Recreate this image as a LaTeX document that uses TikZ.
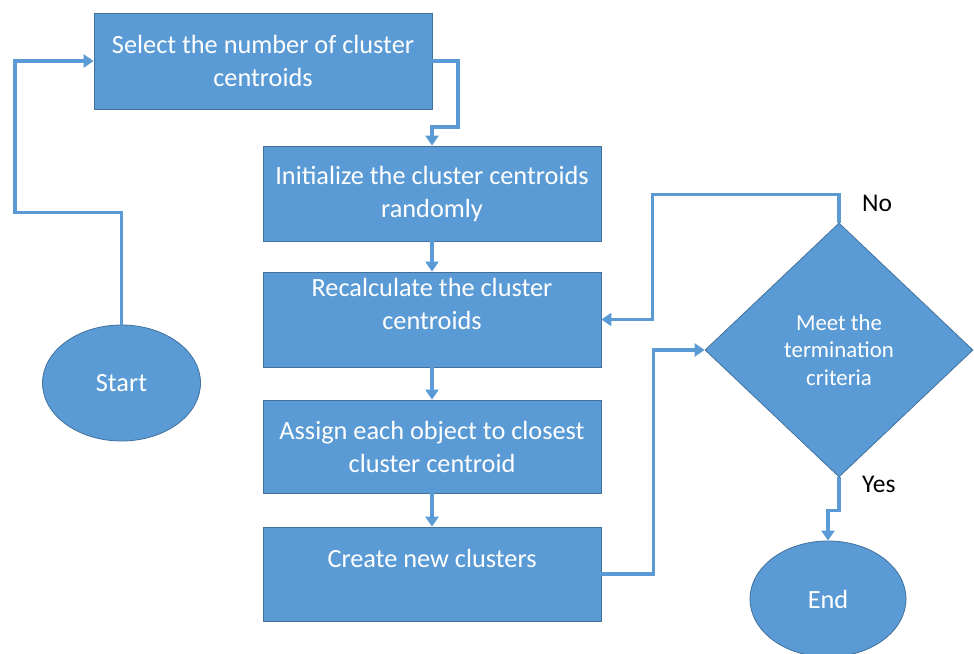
\documentclass[tikz,border=0pt]{standalone}
\usepackage{fontspec}
\setmainfont{Carlito}
\usetikzlibrary{shapes.geometric,arrows.meta,calc}
\definecolor{blockfill}{HTML}{5B9BD5}
\definecolor{blockedge}{HTML}{41719C}
\definecolor{flowline}{HTML}{5B9BD5}
\begin{document}
\begin{tikzpicture}[x=1pt,y=-1pt,
  stepbox/.style={rectangle,fill=blockfill,draw=blockedge,line width=0.8pt,
    text=white,align=center,inner sep=0pt,minimum width=338pt,
    font=\fontsize{26.3}{33}\selectfont},
  terminal/.style={ellipse,fill=blockfill,draw=blockedge,line width=0.8pt,
    text=white,inner sep=0pt,font=\fontsize{26.3}{33}\selectfont},
  decision/.style={diamond,fill=blockfill,draw=blockedge,line width=0.8pt,
    text=white,align=center,inner sep=0pt,
    font=\fontsize{22.8}{27.5}\selectfont},
  flow/.style={draw=flowline,line width=3.5pt,
    -{Triangle[length=10pt,width=13pt]}},
  tag/.style={text=black,font=\fontsize{25.5}{33}\selectfont,inner sep=0pt}]
  \useasboundingbox (0,0) rectangle (974,653);
  \clip (0,0) rectangle (974,653);

  % process steps
  \node[stepbox,minimum height=96pt] (select) at (263,61)
    {Select the number of cluster\\centroids};
  \node[stepbox,minimum height=95pt] (init) at (432,193.5)
    {Initialize the cluster centroids\\randomly};
  \node[stepbox,minimum height=95pt] (recalc) at (432,319.5)
    {Recalculate the cluster\\centroids\\[-12pt]\strut};
  \node[stepbox,minimum height=93pt] (assign) at (432,446.5)
    {Assign each object to closest\\cluster centroid};
  \node[stepbox,minimum height=94pt] (create) at (432,574)
    {Create new clusters\\[-12pt]\strut};

  % terminals and decision
  \node[terminal,minimum width=158pt,minimum height=116pt] (start) at (121.5,383) {Start};
  \node[terminal,minimum width=156pt,minimum height=116pt] (end) at (828,599) {End};
  \node[decision,minimum width=268pt,minimum height=254pt] (check) at (839,350)
    {Meet the\\termination\\criteria};

  % branch labels
  \node[tag,anchor=west] (nolabel) at (862,203) {No};
  \node[tag,anchor=west] (yeslabel) at (862,484) {Yes};

  % connectors
  \draw[flow] (start.north) -- ++(0,-112) -| (15,61) -- (select.west);
  \draw[flow] (select.east) -| (458,127) -| (init.north);
  \draw[flow] (init.south) -- (recalc.north);
  \draw[flow] (recalc.south) -- (assign.north);
  \draw[flow] (assign.south) -- (create.north);
  \draw[flow] (create.east) -- ++(52,0) |- (check.west);
  \draw[flow] (check.north) -- ++(0,-28) -| ($(recalc.east)+(51,0)$) -- (recalc.east);
  \draw[flow] (check.south) -- ++(0,33) -| (end.north);
\end{tikzpicture}
\end{document}
